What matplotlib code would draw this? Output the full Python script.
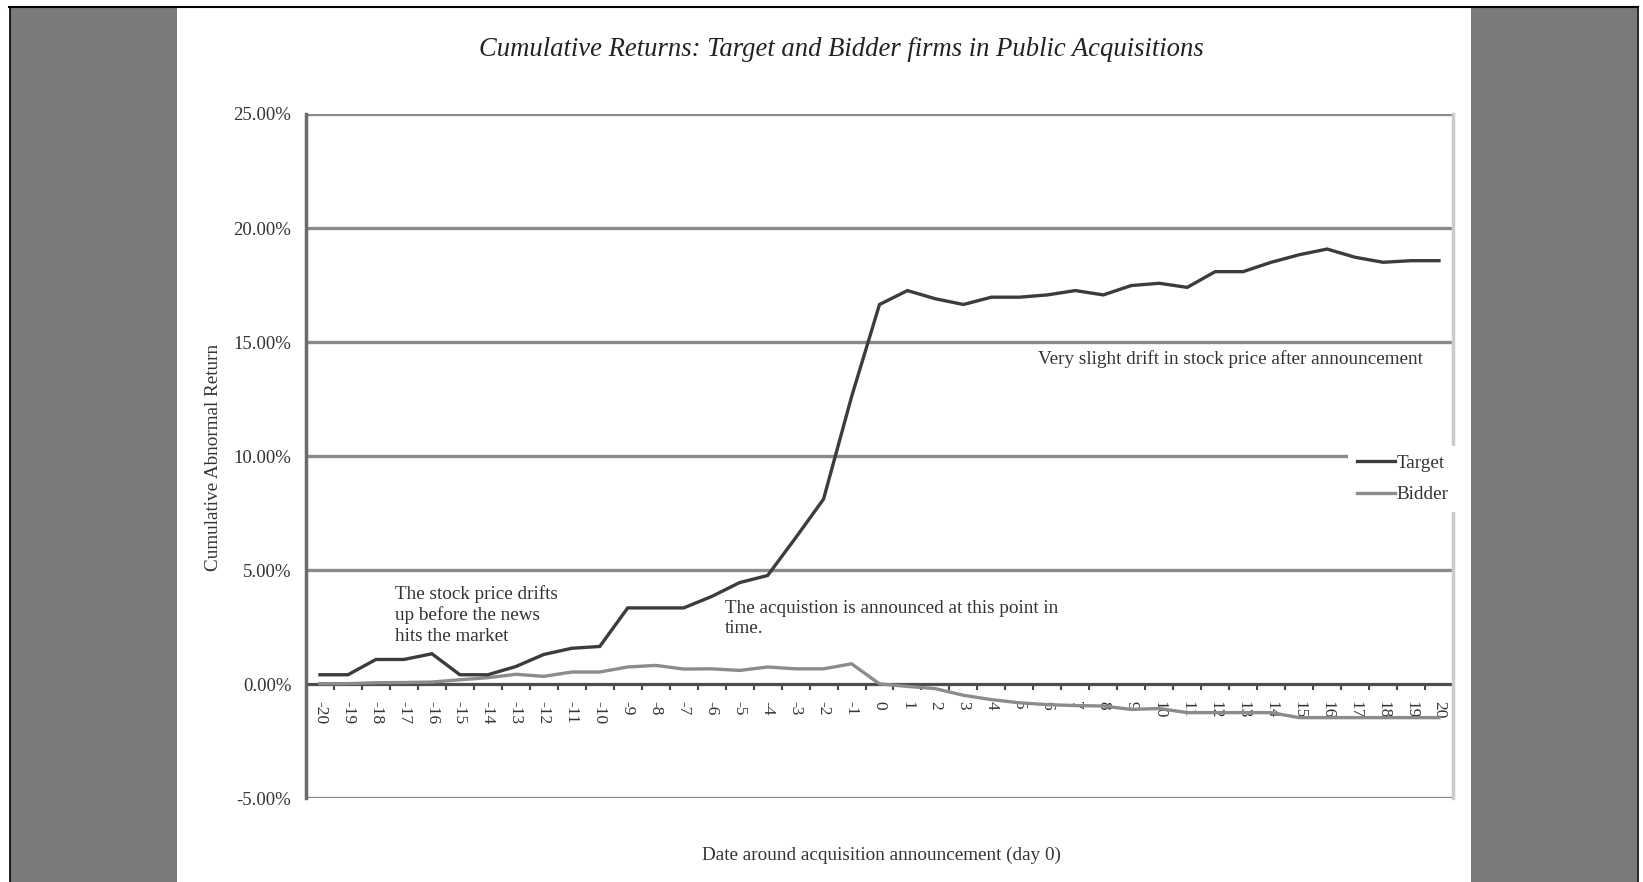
import matplotlib
matplotlib.use("Agg")
import matplotlib.pyplot as plt
from matplotlib.patches import Rectangle
from matplotlib.lines import Line2D
from matplotlib.ticker import FuncFormatter, FixedLocator

# ---- data ----
days = list(range(-20, 21))
target = [0.42, 0.42, 1.09, 1.09, 1.34, 0.42, 0.42, 0.78, 1.31, 1.58, 1.66,
          3.35, 3.35, 3.35, 3.85, 4.46, 4.77, 6.42, 8.12, 12.6, 16.65,
          17.26, 16.9, 16.65, 16.97, 16.97, 17.07, 17.26, 17.07, 17.48, 17.58,
          17.4, 18.09, 18.09, 18.5, 18.83, 19.08, 18.72, 18.5, 18.57, 18.57]
bidder = [0.03, 0.03, 0.07, 0.08, 0.10, 0.20, 0.29, 0.44, 0.35, 0.54, 0.54,
          0.76, 0.83, 0.67, 0.68, 0.61, 0.76, 0.68, 0.68, 0.90, 0.02,
          -0.09, -0.19, -0.48, -0.67, -0.81, -0.89, -0.93, -0.95, -1.10, -1.06,
          -1.24, -1.24, -1.24, -1.24, -1.46, -1.46, -1.46, -1.46, -1.46, -1.46]
y_ticks = [-5, 0, 5, 10, 15, 20, 25]
series_names = ["Target", "Bidder"]
title = "Cumulative Returns: Target and Bidder firms in Public Acquisitions"
ylabel = "Cumulative Abnormal Return"
xlabel = "Date around acquisition announcement (day 0)"
notes = ["The stock price drifts\nup before the news\nhits the market",
         "The acquistion is announced at this point in\ntime.",
         "Very slight drift in stock price after announcement"]

W, H = 1643, 882
plt.rcParams['font.family'] = ['Liberation Serif', 'DejaVu Serif']
fig = plt.figure(figsize=(W / 100, H / 100), dpi=100)
fig.patch.set_facecolor('white')

def fx(px):
    return px / W

def fy(py):
    return 1 - py / H

# page background: gray side panels and black frame lines
gray = '#7a7a7a'
fig.patches.append(Rectangle((fx(10), 0), fx(177) - fx(10), fy(8), transform=fig.transFigure,
                             facecolor=gray, edgecolor='none', zorder=0))
fig.patches.append(Rectangle((fx(1471), 0), fx(1637) - fx(1471), fy(8), transform=fig.transFigure,
                             facecolor=gray, edgecolor='none', zorder=0))
fig.lines.append(Line2D([fx(9), fx(1638)], [fy(7), fy(7)], transform=fig.transFigure,
                        color='black', lw=1.5))
fig.lines.append(Line2D([fx(9.5), fx(9.5)], [0, fy(7)], transform=fig.transFigure,
                        color='black', lw=1.2))
fig.lines.append(Line2D([fx(1637.5), fx(1637.5)], [0, fy(7)], transform=fig.transFigure,
                        color='black', lw=1.2))

# axes
left, right, top, bottom = 306, 1453, 114, 798.4
ax = fig.add_axes([fx(left), fy(bottom), fx(right) - fx(left), fy(top) - fy(bottom)])
ax.set_facecolor('white')
ax.set_xlim(-20.5, 20.5)
ax.set_ylim(-5, 25)

ax.yaxis.set_major_locator(FixedLocator(y_ticks))
ax.yaxis.set_major_formatter(FuncFormatter(lambda v, p: f"{v:.2f}%"))
ax.grid(axis='y', color='#8a8a8a', lw=2.4, zorder=0)
ax.set_axisbelow(True)

ax.xaxis.set_major_locator(FixedLocator(days))
ax.xaxis.set_major_formatter(FuncFormatter(lambda v, p: f"{int(round(v))}"))
ax.xaxis.set_minor_locator(FixedLocator([d + 0.5 for d in days[:-1]]))
ax.tick_params(axis='x', which='major', length=0, pad=12, labelrotation=270,
               labelsize=12.5, labelcolor='#333333')
ax.tick_params(axis='x', which='minor', length=4, width=1.5, color='#444444', direction='out')
ax.tick_params(axis='y', length=0, pad=10.5, labelsize=13.5, labelcolor='#333333')

ax.spines['bottom'].set_position(('data', 0))
ax.spines['bottom'].set_color('#4a4a4a')
ax.spines['bottom'].set_linewidth(2)
ax.spines['bottom'].set_zorder(1.5)
ax.spines['top'].set_visible(False)
ax.spines['left'].set_color('#6a6a6a')
ax.spines['left'].set_linewidth(2.5)
ax.spines['right'].set_color('#cccccc')
ax.spines['right'].set_linewidth(2.5)

l1, = ax.plot(days, target, color='#3c3c3c', lw=2.4, label=series_names[0], zorder=4,
              solid_joinstyle='miter')
l2, = ax.plot(days, bidder, color='#8c8c8c', lw=2.4, label=series_names[1], zorder=3,
              solid_joinstyle='miter')

leg = ax.legend(handles=[l1, l2], loc='upper left',
                bbox_to_anchor=(fx(1348), fy(446)), bbox_transform=fig.transFigure,
                frameon=True, facecolor='white', edgecolor='none', framealpha=1,
                fancybox=False, fontsize=13.8, handlelength=2.0, handletextpad=0.1,
                labelspacing=0.72, borderpad=0.45, borderaxespad=0)
leg.set_zorder(10)
for t in leg.get_texts():
    t.set_color('#333333')

# texts
fig.text(fx(841), fy(50), title, ha='center', va='center', fontsize=19.2,
         style='italic', color='#222222')
fig.text(fx(213), fy(457), ylabel, ha='center', va='center', rotation=90,
         fontsize=13.8, color='#333333')
fig.text(fx(881), fy(855), xlabel, ha='center', va='center', fontsize=13.8, color='#333333')

fig.text(fx(395), fy(615), notes[0], ha='left', va='center', fontsize=13.8,
         color='#333333', linespacing=1.27)
fig.text(fx(725), fy(618.5), notes[1], ha='left', va='center', fontsize=13.8,
         color='#333333', linespacing=1.27)
fig.text(fx(1038), fy(359), notes[2], ha='left', va='center', fontsize=13.8, color='#333333')

fig.savefig('out.png', dpi=100, facecolor='white')
